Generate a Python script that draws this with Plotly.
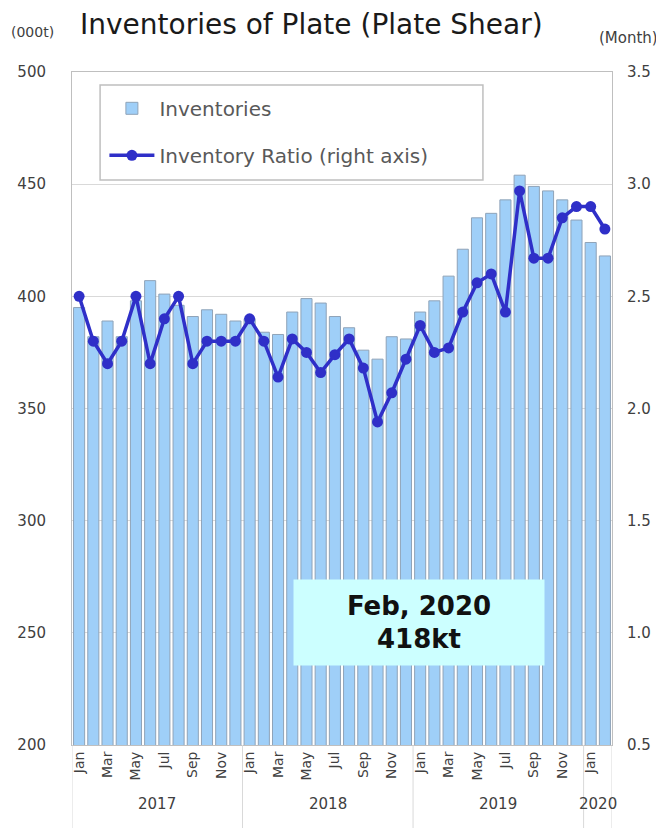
import plotly.graph_objects as go

# DATA
month_names = ['Jan', 'Feb', 'Mar', 'Apr', 'May', 'Jun', 'Jul', 'Aug', 'Sep', 'Oct', 'Nov', 'Dec']
months = month_names * 3 + ['Jan', 'Feb']
years = ['2017'] * 12 + ['2018'] * 12 + ['2019'] * 12 + ['2020'] * 2

inventories = [395, 382, 389, 382, 398, 407, 401, 396, 391, 394, 392, 389,
               390, 384, 383, 393, 399, 397, 391, 386, 376, 372, 382, 381,
               393, 398, 409, 421, 435, 437, 443, 454, 449, 447, 443, 434,
               424, 418]
ratio = [2.50, 2.30, 2.20, 2.30, 2.50, 2.20, 2.40, 2.50, 2.20, 2.30, 2.30, 2.30,
         2.40, 2.30, 2.14, 2.31, 2.25, 2.16, 2.24, 2.31, 2.18, 1.94, 2.07, 2.22,
         2.37, 2.25, 2.27, 2.43, 2.56, 2.60, 2.43, 2.97, 2.67, 2.67, 2.85, 2.90,
         2.90, 2.80]

left_ticks = [200, 250, 300, 350, 400, 450, 500]
right_ticks = [0.5, 1.0, 1.5, 2.0, 2.5, 3.0, 3.5]

FONT = 'DejaVu Sans'
TXT = '#404040'
GRID = '#d9d9d9'

x = list(range(len(months)))
tick_idx = x[::2]

fig = go.Figure()

fig.add_trace(go.Bar(
    x=x, y=inventories, name='Inventories', width=0.78,
    marker=dict(color='#9fcff8', line=dict(color='#8fa3b8', width=1)),
    legendgroup='a'))

fig.add_trace(go.Scatter(
    x=x, y=ratio, name='Inventory Ratio (right axis)', yaxis='y2',
    mode='lines+markers', line=dict(color='#2f2fc8', width=3.5),
    marker=dict(size=11, color='#2f2fc8'), legendgroup='b'))

# year separators and labels below the axis
groups = {}
for i, yr in enumerate(years):
    groups.setdefault(yr, []).append(i)

shapes = []
annotations = []
for yr, idx in groups.items():
    shapes.append(dict(type='line', xref='x', yref='paper', x0=idx[-1] + 0.5, x1=idx[-1] + 0.5,
                       y0=0, y1=-0.125, line=dict(color=GRID, width=1)))
    annotations.append(dict(x=(idx[0] + idx[-1]) / 2, y=-0.104, xref='x', yref='paper', text=yr,
                            showarrow=False, font=dict(family=FONT, size=15, color=TXT)))
shapes.append(dict(type='line', xref='x', yref='paper', x0=-0.5, x1=-0.5, y0=0, y1=-0.125,
                   line=dict(color=GRID, width=1)))

# legend frame
shapes.append(dict(type='rect', xref='paper', yref='paper', x0=0.052, x1=0.761, y0=0.8395, y1=0.9807,
                   fillcolor='white', line=dict(color='#bfbfbf', width=1.5), layer='above'))

annotations += [
    dict(x=0.011, y=1.0705, xref='paper', yref='paper', xanchor='left', yanchor='middle',
         text='Inventories of Plate (Plate Shear)', showarrow=False,
         font=dict(family=FONT, size=28, color='#1a1a1a')),
    dict(x=-0.117, y=1.060, xref='paper', yref='paper', xanchor='left', yanchor='middle',
         text='(000t)', showarrow=False, font=dict(family=FONT, size=14, color=TXT)),
    dict(x=1.089, y=1.051, xref='paper', yref='paper', xanchor='right', yanchor='middle',
         text='(Month)', showarrow=False, font=dict(family=FONT, size=15, color=TXT)),
    dict(x=0.6426, y=0.1813, xref='paper', yref='paper', xanchor='center', yanchor='middle',
         text='<b>Feb, 2020<br>418kt</b>', showarrow=False, width=248, height=83,
         bgcolor='#ccffff', font=dict(family=FONT, size=26, color='#111111')),
]

# the page body adds an 8px margin, so the figure is drawn 8px in from the window corner
fig.update_layout(
    width=656, height=820,
    margin=dict(l=64, r=52, t=64, b=83, autoexpand=False),
    paper_bgcolor='white', plot_bgcolor='white',
    font=dict(family=FONT, color=TXT),
    showlegend=True,
    legend=dict(x=0.06, y=0.975, xanchor='left', yanchor='top',
                borderwidth=0, bgcolor='rgba(0,0,0,0)',
                font=dict(family=FONT, size=20, color='#595959'),
                traceorder='grouped', tracegroupgap=18, itemwidth=45),
    xaxis=dict(range=[-0.5, len(x) - 0.5], tickmode='array', tickvals=tick_idx,
               ticktext=[months[i] for i in tick_idx], tickangle=-90, automargin=False,
               tickfont=dict(family=FONT, size=14, color=TXT),
               showgrid=False, zeroline=False, ticks='',
               showline=True, linecolor='#bfbfbf', mirror=True),
    yaxis=dict(range=[200, 500], tickvals=left_ticks, showgrid=True, gridcolor=GRID,
               tickfont=dict(family=FONT, size=15, color=TXT), ticklabelstandoff=22,
               automargin=False,
               zeroline=False, showline=True, linecolor='#bfbfbf', mirror=True),
    yaxis2=dict(range=[0.5, 3.5], tickvals=right_ticks, tickformat='.1f', overlaying='y',
                side='right', showgrid=False, zeroline=False, ticklabelstandoff=14,
                automargin=False,
                tickfont=dict(family=FONT, size=15, color=TXT)),
    shapes=shapes,
    annotations=annotations,
)

fig.write_html("out.html")
